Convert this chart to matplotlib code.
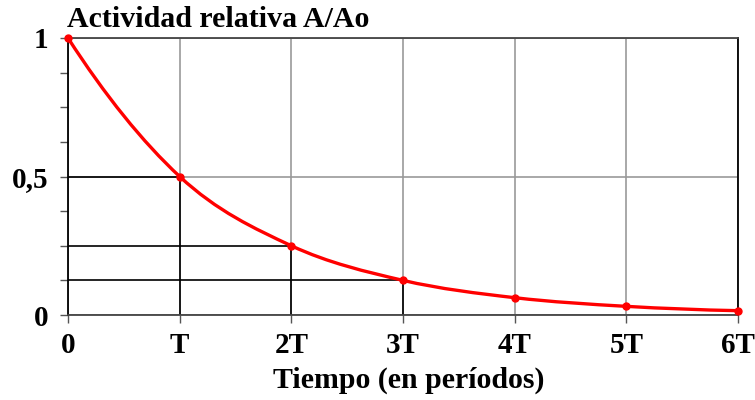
import matplotlib
matplotlib.use("Agg")
import matplotlib.pyplot as plt
from matplotlib.path import Path
from matplotlib.patches import PathPatch
import numpy as np

periods = [0, 1, 2, 3, 4, 5, 6]
activity = [1.0, 0.5, 0.25, 0.125, 0.0625, 0.03125, 0.015625]
x_tick_labels = ["0", "T", "2T", "3T", "4T", "5T", "6T"]
y_major = [0, 0.5, 1]
y_major_labels = ["0", "0,5", "1"]
y_minor = [0.125, 0.25, 0.375, 0.625, 0.75, 0.875]
guide_idx = [1, 2, 3]

plt.rcParams['font.family'] = ['Liberation Serif', 'DejaVu Serif']
plt.rcParams['font.weight'] = 'bold'

FS_TICK = 21
FS_TEXT = 21.5

fig = plt.figure(figsize=(7.55, 4.0), dpi=100)
ax = fig.add_axes([68/755, 85/400, (738-68)/755, (315-38)/400])

ax.set_xlim(periods[0], periods[-1])
ax.set_ylim(0, 1)

ax.set_xticks(periods)
ax.set_xticklabels(x_tick_labels)
ax.set_yticks(y_major)
ax.set_yticklabels(y_major_labels)
ax.set_yticks(y_minor, minor=True)

ax.tick_params(axis='both', which='both', direction='out', length=6, width=1,
               color='#555555', labelsize=FS_TICK)
ax.tick_params(axis='x', pad=6)
ax.tick_params(axis='y', pad=8)
for lab in ax.get_xticklabels() + ax.get_yticklabels():
    lab.set_fontweight('bold')

ax.grid(True, which='major', color='#999999', linewidth=1.2)
ax.set_axisbelow(True)

for s in ['left', 'right']:
    ax.spines[s].set_color('black')
    ax.spines[s].set_linewidth(1.3)
for s in ['top', 'bottom']:
    ax.spines[s].set_color('#444444')
    ax.spines[s].set_linewidth(1.3)

# guide lines to half-life points
for i in guide_idx:
    ax.hlines(activity[i], periods[0], periods[i], color='black', linewidth=1.2, zorder=2)
    ax.vlines(periods[i], 0, activity[i], color='black', linewidth=1.2, zorder=2)

# smooth curve (cubic Bezier through the data points)
P = np.column_stack([periods, activity]).astype(float)
n = len(P)
tang = np.zeros_like(P)
for i in range(n):
    if i == 0:
        tang[i] = (-3 * P[0] + 4 * P[1] - P[2]) / 2
    elif i == n - 1:
        tang[i] = (3 * P[-1] - 4 * P[-2] + P[-3]) / 2
    else:
        tang[i] = (P[i + 1] - P[i - 1]) / 2
verts = [P[0]]
codes = [Path.MOVETO]
for i in range(n - 1):
    c1 = P[i] + tang[i] / 3.0
    c2 = P[i + 1] - tang[i + 1] / 3.0
    verts += [c1, c2, P[i + 1]]
    codes += [Path.CURVE4] * 3
patch = PathPatch(Path(verts, codes), facecolor='none', edgecolor='#ff0000',
                  linewidth=2.4, zorder=4, clip_on=False, capstyle='round')
ax.add_patch(patch)
ax.plot(periods, activity, linestyle='none', marker='o', markersize=5,
        color='#ff0000', zorder=5, clip_on=False)

fig.text(67/755, 1 - 27/400, "Actividad relativa A/Ao", fontsize=FS_TEXT,
         fontweight='bold', ha='left', va='baseline')
fig.text((273 + 545) / 2 / 755, 1 - 388/400, "Tiempo (en períodos)", fontsize=FS_TEXT,
         fontweight='bold', ha='center', va='baseline')

fig.savefig("out.png", dpi=100)
